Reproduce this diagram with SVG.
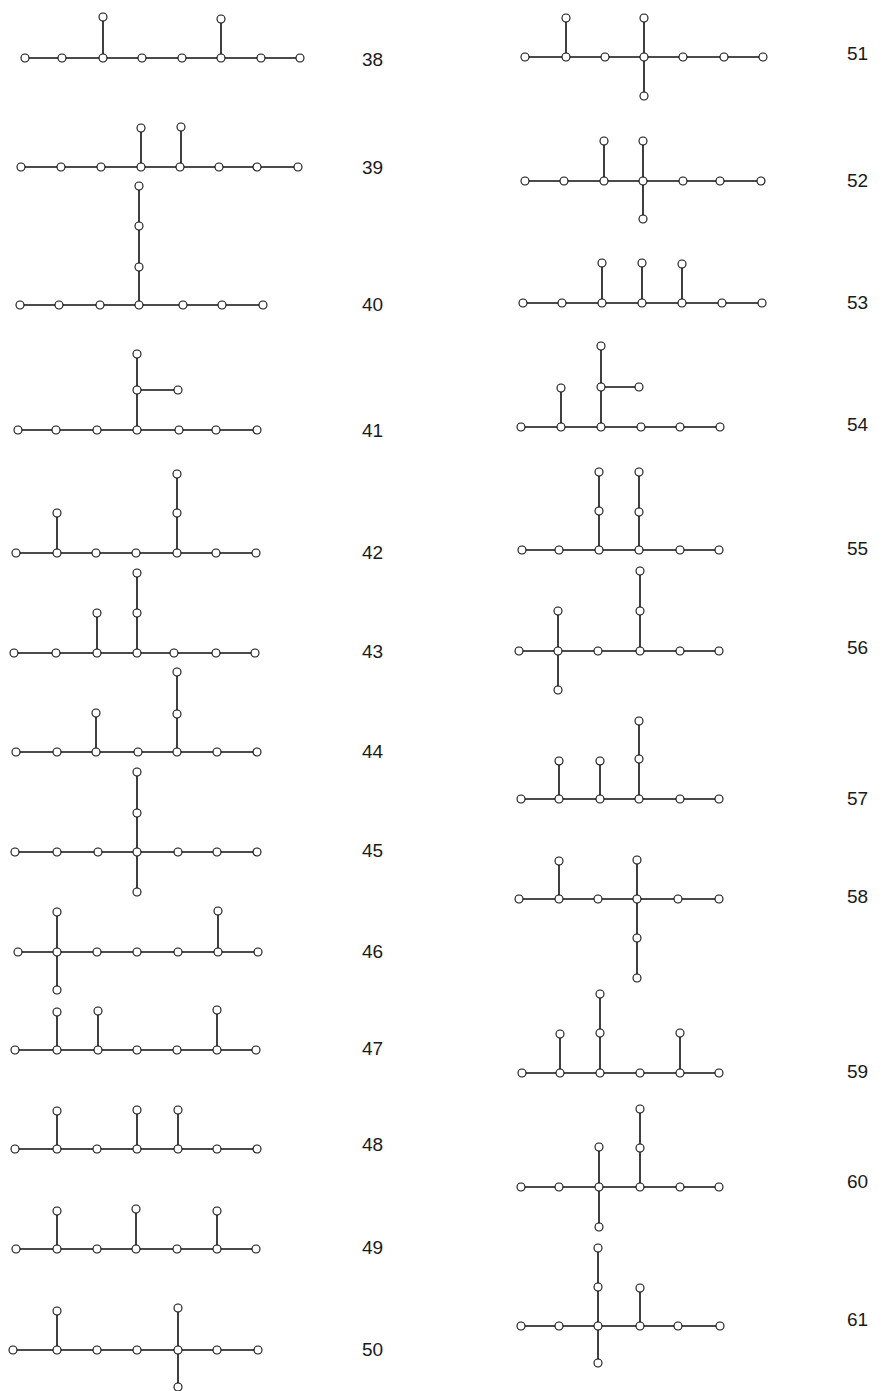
<svg xmlns="http://www.w3.org/2000/svg" width="885" height="1391" viewBox="0 0 885 1391">
<style>
.e{stroke:#111;stroke-width:1.6;fill:none;stroke-linecap:round}
.n{fill:#fff;stroke:#111;stroke-width:1.1}
.t{font-family:"Liberation Sans",Arial,sans-serif;font-size:19px;fill:#1a1a1a}
</style>
<rect width="885" height="1391" fill="#fff"/>
<g id="connectors">
<path class="e" d="M25,58H300M103,58V17M221,58V19"/>
<path class="e" d="M21,167H298M141,167V128M181,167V127"/>
<path class="e" d="M20,305H263M139,305V186"/>
<path class="e" d="M18,430H257M137,430V354M137,390H178"/>
<path class="e" d="M16,553H256M57,553V513M177,553V474"/>
<path class="e" d="M14,653H255M97,653V613M137,653V573"/>
<path class="e" d="M16,752H257M96,752V713M177,752V672"/>
<path class="e" d="M15,852H257M137,772V892"/>
<path class="e" d="M18,952H258M57,912V990M218,952V911"/>
<path class="e" d="M15,1050H256M57,1050V1012M98,1050V1011M217,1050V1010"/>
<path class="e" d="M15,1149H257M57,1149V1111M137,1149V1110M178,1149V1110"/>
<path class="e" d="M16,1249H256M57,1249V1211M136,1249V1209M217,1249V1211"/>
<path class="e" d="M13,1350H258M57,1350V1311M178,1308V1387"/>
<path class="e" d="M525,57H763M566,57V18M644,18V96"/>
<path class="e" d="M525,181H761M604,181V141M643,141V219"/>
<path class="e" d="M523,303H762M602,303V263M642,303V263M682,303V264"/>
<path class="e" d="M521,427H720M561,427V388M601,427V346M601,387H639"/>
<path class="e" d="M522,550H719M599,550V472M639,550V472"/>
<path class="e" d="M519,651H719M558,611V690M640,651V571"/>
<path class="e" d="M521,799H719M559,799V761M600,799V761M639,799V721"/>
<path class="e" d="M519,899H719M559,899V861M637,860V978"/>
<path class="e" d="M522,1073H719M560,1073V1034M600,1073V994M680,1073V1033"/>
<path class="e" d="M521,1187H719M599,1147V1227M640,1187V1109"/>
<path class="e" d="M521,1326H720M598,1248V1363M640,1326V1288"/>
</g>
<g id="g38"><circle class="n" cx="25" cy="58" r="4"/><circle class="n" cx="62" cy="58" r="4"/><circle class="n" cx="103" cy="58" r="4"/><circle class="n" cx="142" cy="58" r="4"/><circle class="n" cx="182" cy="58" r="4"/><circle class="n" cx="221" cy="58" r="4"/><circle class="n" cx="261" cy="58" r="4"/><circle class="n" cx="300" cy="58" r="4"/><circle class="n" cx="103" cy="17" r="4"/><circle class="n" cx="221" cy="19" r="4"/><text class="t" x="362" y="66">38</text></g>
<g id="g39"><circle class="n" cx="21" cy="167" r="4"/><circle class="n" cx="61" cy="167" r="4"/><circle class="n" cx="101" cy="167" r="4"/><circle class="n" cx="141" cy="167" r="4"/><circle class="n" cx="180" cy="167" r="4"/><circle class="n" cx="219" cy="167" r="4"/><circle class="n" cx="257" cy="167" r="4"/><circle class="n" cx="298" cy="167" r="4"/><circle class="n" cx="141" cy="128" r="4"/><circle class="n" cx="181" cy="127" r="4"/><text class="t" x="362" y="174">39</text></g>
<g id="g40"><circle class="n" cx="20" cy="305" r="4"/><circle class="n" cx="59" cy="305" r="4"/><circle class="n" cx="100" cy="305" r="4"/><circle class="n" cx="139" cy="305" r="4"/><circle class="n" cx="183" cy="305" r="4"/><circle class="n" cx="222" cy="305" r="4"/><circle class="n" cx="263" cy="305" r="4"/><circle class="n" cx="139" cy="267" r="4"/><circle class="n" cx="139" cy="226" r="4"/><circle class="n" cx="139" cy="186" r="4"/><text class="t" x="362" y="311">40</text></g>
<g id="g41"><circle class="n" cx="18" cy="430" r="4"/><circle class="n" cx="56" cy="430" r="4"/><circle class="n" cx="97" cy="430" r="4"/><circle class="n" cx="137" cy="430" r="4"/><circle class="n" cx="179" cy="430" r="4"/><circle class="n" cx="216" cy="430" r="4"/><circle class="n" cx="257" cy="430" r="4"/><circle class="n" cx="137" cy="390" r="4"/><circle class="n" cx="137" cy="354" r="4"/><circle class="n" cx="178" cy="390" r="4"/><text class="t" x="362" y="437">41</text></g>
<g id="g42"><circle class="n" cx="16" cy="553" r="4"/><circle class="n" cx="57" cy="553" r="4"/><circle class="n" cx="96" cy="553" r="4"/><circle class="n" cx="136" cy="553" r="4"/><circle class="n" cx="177" cy="553" r="4"/><circle class="n" cx="216" cy="553" r="4"/><circle class="n" cx="256" cy="553" r="4"/><circle class="n" cx="57" cy="513" r="4"/><circle class="n" cx="177" cy="513" r="4"/><circle class="n" cx="177" cy="474" r="4"/><text class="t" x="362" y="559">42</text></g>
<g id="g43"><circle class="n" cx="14" cy="653" r="4"/><circle class="n" cx="56" cy="653" r="4"/><circle class="n" cx="97" cy="653" r="4"/><circle class="n" cx="137" cy="653" r="4"/><circle class="n" cx="174" cy="653" r="4"/><circle class="n" cx="216" cy="653" r="4"/><circle class="n" cx="255" cy="653" r="4"/><circle class="n" cx="97" cy="613" r="4"/><circle class="n" cx="137" cy="613" r="4"/><circle class="n" cx="137" cy="573" r="4"/><text class="t" x="362" y="658">43</text></g>
<g id="g44"><circle class="n" cx="16" cy="752" r="4"/><circle class="n" cx="57" cy="752" r="4"/><circle class="n" cx="96" cy="752" r="4"/><circle class="n" cx="138" cy="752" r="4"/><circle class="n" cx="177" cy="752" r="4"/><circle class="n" cx="217" cy="752" r="4"/><circle class="n" cx="257" cy="752" r="4"/><circle class="n" cx="96" cy="713" r="4"/><circle class="n" cx="177" cy="714" r="4"/><circle class="n" cx="177" cy="672" r="4"/><text class="t" x="362" y="758">44</text></g>
<g id="g45"><circle class="n" cx="15" cy="852" r="4"/><circle class="n" cx="57" cy="852" r="4"/><circle class="n" cx="98" cy="852" r="4"/><circle class="n" cx="137" cy="852" r="4"/><circle class="n" cx="178" cy="852" r="4"/><circle class="n" cx="217" cy="852" r="4"/><circle class="n" cx="257" cy="852" r="4"/><circle class="n" cx="137" cy="813" r="4"/><circle class="n" cx="137" cy="772" r="4"/><circle class="n" cx="137" cy="892" r="4"/><text class="t" x="362" y="857">45</text></g>
<g id="g46"><circle class="n" cx="18" cy="952" r="4"/><circle class="n" cx="57" cy="952" r="4"/><circle class="n" cx="97" cy="952" r="4"/><circle class="n" cx="137" cy="952" r="4"/><circle class="n" cx="178" cy="952" r="4"/><circle class="n" cx="218" cy="952" r="4"/><circle class="n" cx="258" cy="952" r="4"/><circle class="n" cx="57" cy="912" r="4"/><circle class="n" cx="57" cy="990" r="4"/><circle class="n" cx="218" cy="911" r="4"/><text class="t" x="362" y="958">46</text></g>
<g id="g47"><circle class="n" cx="15" cy="1050" r="4"/><circle class="n" cx="57" cy="1050" r="4"/><circle class="n" cx="98" cy="1050" r="4"/><circle class="n" cx="137" cy="1050" r="4"/><circle class="n" cx="177" cy="1050" r="4"/><circle class="n" cx="217" cy="1050" r="4"/><circle class="n" cx="256" cy="1050" r="4"/><circle class="n" cx="57" cy="1012" r="4"/><circle class="n" cx="98" cy="1011" r="4"/><circle class="n" cx="217" cy="1010" r="4"/><text class="t" x="362" y="1055">47</text></g>
<g id="g48"><circle class="n" cx="15" cy="1149" r="4"/><circle class="n" cx="57" cy="1149" r="4"/><circle class="n" cx="97" cy="1149" r="4"/><circle class="n" cx="137" cy="1149" r="4"/><circle class="n" cx="178" cy="1149" r="4"/><circle class="n" cx="217" cy="1149" r="4"/><circle class="n" cx="257" cy="1149" r="4"/><circle class="n" cx="57" cy="1111" r="4"/><circle class="n" cx="137" cy="1110" r="4"/><circle class="n" cx="178" cy="1110" r="4"/><text class="t" x="362" y="1151">48</text></g>
<g id="g49"><circle class="n" cx="16" cy="1249" r="4"/><circle class="n" cx="57" cy="1249" r="4"/><circle class="n" cx="97" cy="1249" r="4"/><circle class="n" cx="136" cy="1249" r="4"/><circle class="n" cx="177" cy="1249" r="4"/><circle class="n" cx="217" cy="1249" r="4"/><circle class="n" cx="256" cy="1249" r="4"/><circle class="n" cx="57" cy="1211" r="4"/><circle class="n" cx="136" cy="1209" r="4"/><circle class="n" cx="217" cy="1211" r="4"/><text class="t" x="362" y="1254">49</text></g>
<g id="g50"><circle class="n" cx="13" cy="1350" r="4"/><circle class="n" cx="57" cy="1350" r="4"/><circle class="n" cx="97" cy="1350" r="4"/><circle class="n" cx="137" cy="1350" r="4"/><circle class="n" cx="178" cy="1350" r="4"/><circle class="n" cx="217" cy="1350" r="4"/><circle class="n" cx="258" cy="1350" r="4"/><circle class="n" cx="57" cy="1311" r="4"/><circle class="n" cx="178" cy="1308" r="4"/><circle class="n" cx="178" cy="1387" r="4"/><text class="t" x="362" y="1356">50</text></g>
<g id="g51"><circle class="n" cx="525" cy="57" r="4"/><circle class="n" cx="566" cy="57" r="4"/><circle class="n" cx="605" cy="57" r="4"/><circle class="n" cx="644" cy="57" r="4"/><circle class="n" cx="683" cy="57" r="4"/><circle class="n" cx="724" cy="57" r="4"/><circle class="n" cx="763" cy="57" r="4"/><circle class="n" cx="566" cy="18" r="4"/><circle class="n" cx="644" cy="18" r="4"/><circle class="n" cx="644" cy="96" r="4"/><text class="t" x="847" y="60">51</text></g>
<g id="g52"><circle class="n" cx="525" cy="181" r="4"/><circle class="n" cx="564" cy="181" r="4"/><circle class="n" cx="604" cy="181" r="4"/><circle class="n" cx="643" cy="181" r="4"/><circle class="n" cx="683" cy="181" r="4"/><circle class="n" cx="720" cy="181" r="4"/><circle class="n" cx="761" cy="181" r="4"/><circle class="n" cx="604" cy="141" r="4"/><circle class="n" cx="643" cy="141" r="4"/><circle class="n" cx="643" cy="219" r="4"/><text class="t" x="847" y="187">52</text></g>
<g id="g53"><circle class="n" cx="523" cy="303" r="4"/><circle class="n" cx="562" cy="303" r="4"/><circle class="n" cx="602" cy="303" r="4"/><circle class="n" cx="642" cy="303" r="4"/><circle class="n" cx="682" cy="303" r="4"/><circle class="n" cx="722" cy="303" r="4"/><circle class="n" cx="762" cy="303" r="4"/><circle class="n" cx="602" cy="263" r="4"/><circle class="n" cx="642" cy="263" r="4"/><circle class="n" cx="682" cy="264" r="4"/><text class="t" x="847" y="309">53</text></g>
<g id="g54"><circle class="n" cx="521" cy="427" r="4"/><circle class="n" cx="561" cy="427" r="4"/><circle class="n" cx="601" cy="427" r="4"/><circle class="n" cx="641" cy="427" r="4"/><circle class="n" cx="680" cy="427" r="4"/><circle class="n" cx="720" cy="427" r="4"/><circle class="n" cx="561" cy="388" r="4"/><circle class="n" cx="601" cy="387" r="4"/><circle class="n" cx="601" cy="346" r="4"/><circle class="n" cx="639" cy="387" r="4"/><text class="t" x="847" y="431">54</text></g>
<g id="g55"><circle class="n" cx="522" cy="550" r="4"/><circle class="n" cx="559" cy="550" r="4"/><circle class="n" cx="599" cy="550" r="4"/><circle class="n" cx="639" cy="550" r="4"/><circle class="n" cx="680" cy="550" r="4"/><circle class="n" cx="719" cy="550" r="4"/><circle class="n" cx="599" cy="511" r="4"/><circle class="n" cx="599" cy="472" r="4"/><circle class="n" cx="639" cy="512" r="4"/><circle class="n" cx="639" cy="472" r="4"/><text class="t" x="847" y="555">55</text></g>
<g id="g56"><circle class="n" cx="519" cy="651" r="4"/><circle class="n" cx="558" cy="651" r="4"/><circle class="n" cx="598" cy="651" r="4"/><circle class="n" cx="640" cy="651" r="4"/><circle class="n" cx="680" cy="651" r="4"/><circle class="n" cx="719" cy="651" r="4"/><circle class="n" cx="558" cy="611" r="4"/><circle class="n" cx="558" cy="690" r="4"/><circle class="n" cx="640" cy="611" r="4"/><circle class="n" cx="640" cy="571" r="4"/><text class="t" x="847" y="654">56</text></g>
<g id="g57"><circle class="n" cx="521" cy="799" r="4"/><circle class="n" cx="559" cy="799" r="4"/><circle class="n" cx="600" cy="799" r="4"/><circle class="n" cx="639" cy="799" r="4"/><circle class="n" cx="680" cy="799" r="4"/><circle class="n" cx="719" cy="799" r="4"/><circle class="n" cx="559" cy="761" r="4"/><circle class="n" cx="600" cy="761" r="4"/><circle class="n" cx="639" cy="759" r="4"/><circle class="n" cx="639" cy="721" r="4"/><text class="t" x="847" y="805">57</text></g>
<g id="g58"><circle class="n" cx="519" cy="899" r="4"/><circle class="n" cx="559" cy="899" r="4"/><circle class="n" cx="598" cy="899" r="4"/><circle class="n" cx="637" cy="899" r="4"/><circle class="n" cx="678" cy="899" r="4"/><circle class="n" cx="719" cy="899" r="4"/><circle class="n" cx="559" cy="861" r="4"/><circle class="n" cx="637" cy="860" r="4"/><circle class="n" cx="637" cy="938" r="4"/><circle class="n" cx="637" cy="978" r="4"/><text class="t" x="847" y="903">58</text></g>
<g id="g59"><circle class="n" cx="522" cy="1073" r="4"/><circle class="n" cx="560" cy="1073" r="4"/><circle class="n" cx="600" cy="1073" r="4"/><circle class="n" cx="640" cy="1073" r="4"/><circle class="n" cx="680" cy="1073" r="4"/><circle class="n" cx="719" cy="1073" r="4"/><circle class="n" cx="560" cy="1034" r="4"/><circle class="n" cx="600" cy="1033" r="4"/><circle class="n" cx="600" cy="994" r="4"/><circle class="n" cx="680" cy="1033" r="4"/><text class="t" x="847" y="1078">59</text></g>
<g id="g60"><circle class="n" cx="521" cy="1187" r="4"/><circle class="n" cx="559" cy="1187" r="4"/><circle class="n" cx="599" cy="1187" r="4"/><circle class="n" cx="640" cy="1187" r="4"/><circle class="n" cx="680" cy="1187" r="4"/><circle class="n" cx="719" cy="1187" r="4"/><circle class="n" cx="599" cy="1147" r="4"/><circle class="n" cx="599" cy="1227" r="4"/><circle class="n" cx="640" cy="1148" r="4"/><circle class="n" cx="640" cy="1109" r="4"/><text class="t" x="847" y="1188">60</text></g>
<g id="g61"><circle class="n" cx="521" cy="1326" r="4"/><circle class="n" cx="559" cy="1326" r="4"/><circle class="n" cx="598" cy="1326" r="4"/><circle class="n" cx="640" cy="1326" r="4"/><circle class="n" cx="678" cy="1326" r="4"/><circle class="n" cx="720" cy="1326" r="4"/><circle class="n" cx="598" cy="1287" r="4"/><circle class="n" cx="598" cy="1248" r="4"/><circle class="n" cx="640" cy="1288" r="4"/><circle class="n" cx="598" cy="1363" r="4"/><text class="t" x="847" y="1326">61</text></g>
</svg>
